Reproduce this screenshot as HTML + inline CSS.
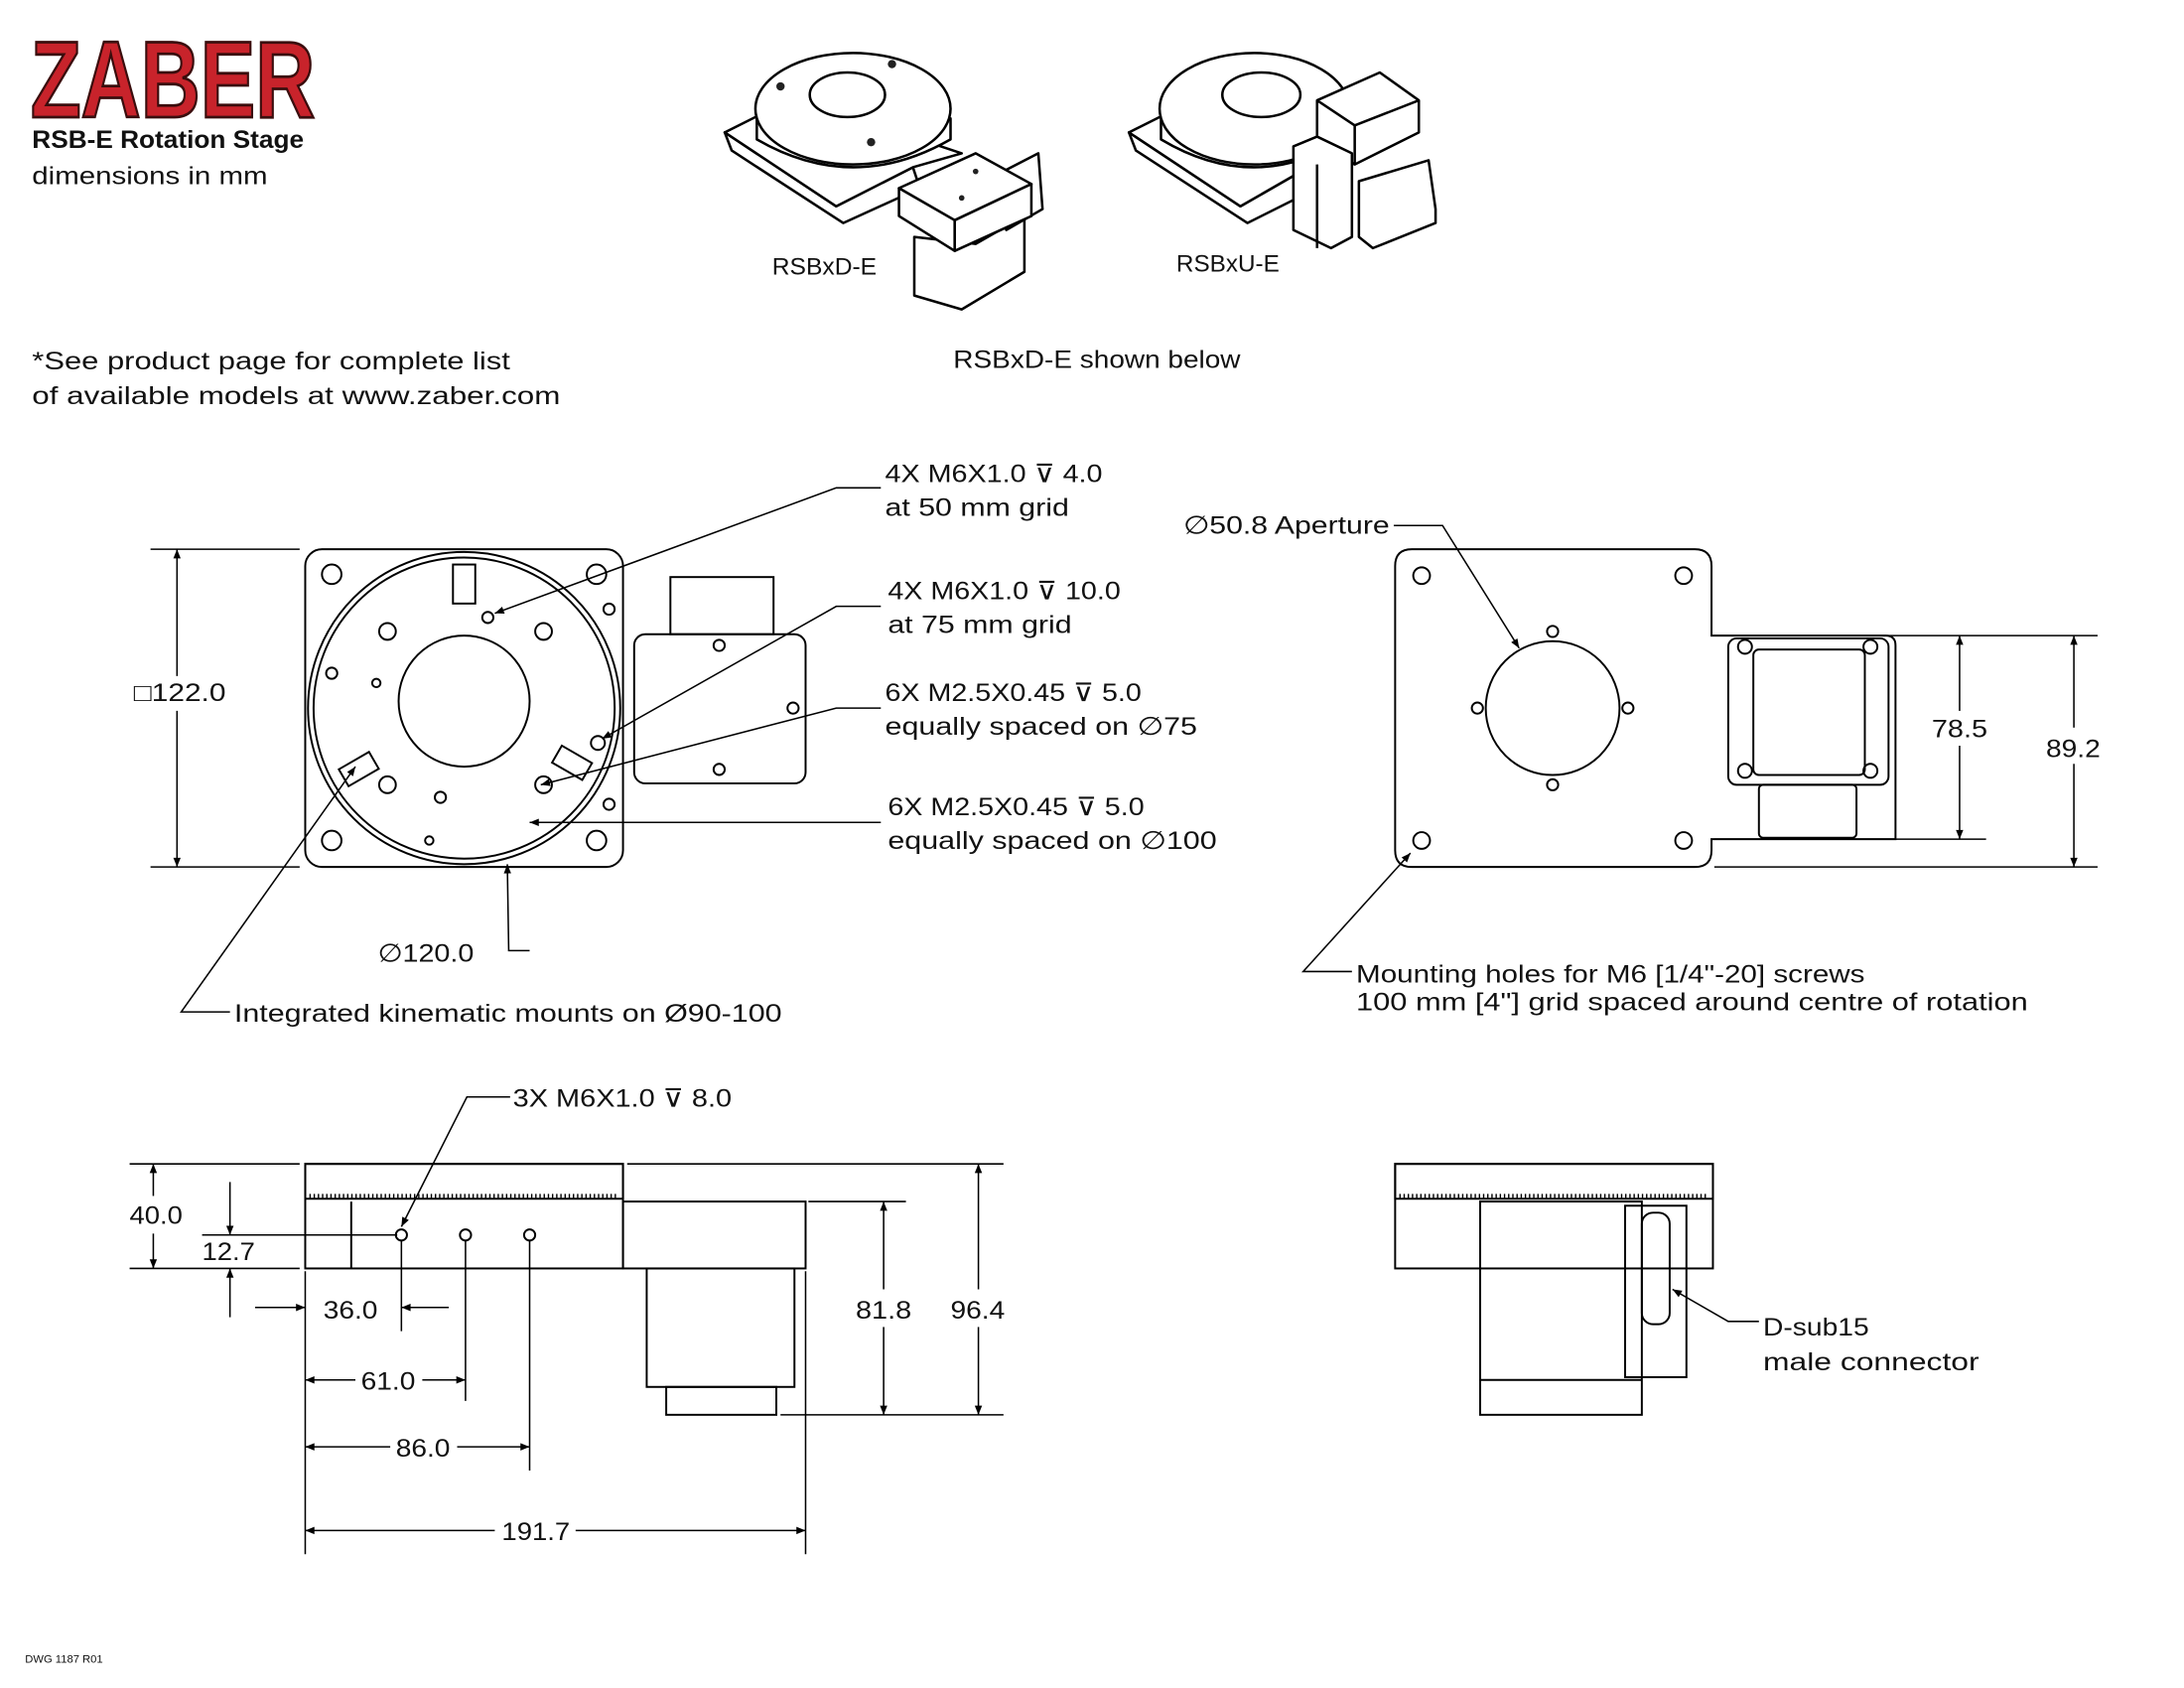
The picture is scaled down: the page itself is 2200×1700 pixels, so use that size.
<!DOCTYPE html>
<html><head><meta charset="utf-8"><style>
html,body{margin:0;padding:0;background:#fff}
svg{display:block}
text{font-family:"Liberation Sans",sans-serif;fill:#111}
.d{font-family:"DejaVu Sans",sans-serif}
</style></head><body>
<svg width="2200" height="1700" viewBox="0 0 1567 1211" preserveAspectRatio="none" xmlns="http://www.w3.org/2000/svg">
<defs>
<marker id="a" viewBox="0 0 10 10" refX="10" refY="5" markerWidth="9" markerHeight="6" orient="auto-start-reverse"><path d="M0,1 L10,5 L0,9 z" fill="#000"/></marker>
</defs>
<rect width="1567" height="1211" fill="#fff"/>
<text x="22" y="84" font-size="78" font-weight="bold" textLength="204" lengthAdjust="spacingAndGlyphs" style="fill:#c8232b;stroke:#3a0d0d;stroke-width:2">ZABER</text>
<text x="23" y="106" font-size="18" font-weight="bold" textLength="195" lengthAdjust="spacingAndGlyphs">RSB-E Rotation Stage</text>
<text x="23" y="132" font-size="18" textLength="169" lengthAdjust="spacingAndGlyphs">dimensions in mm</text>
<text x="23" y="265" font-size="18" textLength="343" lengthAdjust="spacingAndGlyphs">*See product page for complete list</text>
<text x="23" y="290" font-size="18" textLength="379" lengthAdjust="spacingAndGlyphs">of available models at www.zaber.com</text>
<text x="554" y="197" font-size="17" textLength="75" lengthAdjust="spacingAndGlyphs">RSBxD-E</text>
<text x="844" y="195" font-size="17" textLength="74" lengthAdjust="spacingAndGlyphs">RSBxU-E</text>
<text x="684" y="264" font-size="18" textLength="206" lengthAdjust="spacingAndGlyphs">RSBxD-E shown below</text>
<!-- iso sketch D -->
<g fill="#fff" stroke="#000" stroke-width="1.8" stroke-linejoin="round">
<path d="M520,95 L525,108 L605,160 L660,135 L655,120 L600,148 Z"/>
<path d="M520,95 L570,70 L690,110 L655,120 L600,148 Z"/>
<path d="M543,85 L543,100 Q612,140 682,100 L682,85 Z"/>
<ellipse cx="612" cy="78" rx="70" ry="40"/>
<ellipse cx="608" cy="68" rx="27" ry="16"/>
<path d="M656,212 L656,170 L700,175 L735,155 L735,195 L690,222 Z"/>
<path d="M710,128 L745,110 L748,150 L722,165 Z"/>
<path d="M645,135 L700,110 L740,132 L685,158 Z"/>
<path d="M645,135 L645,155 L685,180 L685,158 Z"/>
<path d="M685,158 L740,132 L740,155 L685,180 Z"/>
</g>
<g fill="#222"><circle cx="640" cy="46" r="3"/><circle cx="560" cy="62" r="3"/><circle cx="625" cy="102" r="3"/><circle cx="700" cy="123" r="2"/><circle cx="690" cy="142" r="2"/></g>
<!-- iso sketch U -->
<g fill="#fff" stroke="#000" stroke-width="1.8" stroke-linejoin="round">
<path d="M810,95 L815,108 L895,160 L935,140 L930,125 L890,148 Z"/>
<path d="M810,95 L860,70 L960,105 L930,125 L890,148 Z"/>
<path d="M833,85 L833,100 Q900,140 965,100 L965,85 Z"/>
<ellipse cx="900" cy="78" rx="68" ry="40"/>
<ellipse cx="905" cy="68" rx="28" ry="16"/>
<path d="M945,72 L990,52 L1018,72 L1018,95 L972,118 L945,100 Z"/>
<path d="M945,72 L972,90 L1018,72"/><line x1="972" y1="90" x2="972" y2="118"/>
<path d="M975,130 L1025,115 L1030,150 L1030,160 L985,178 L975,170 Z"/>
<path d="M928,105 L945,98 L970,110 L970,170 L955,178 L928,165 Z"/>
<line x1="945" y1="118" x2="945" y2="178"/>
</g>
<g fill="none" stroke="#000" stroke-width="1.4">
<rect x="219" y="394" width="228" height="228" rx="12"/>
<rect x="455" y="455" width="123" height="107" rx="8"/>
<rect x="481" y="414" width="74" height="41"/>
<circle cx="333" cy="508" r="112"/>
<circle cx="333" cy="508" r="108"/>
<circle cx="333" cy="503" r="47"/>
<circle cx="238" cy="412" r="7"/><circle cx="428" cy="412" r="7"/>
<circle cx="238" cy="603" r="7"/><circle cx="428" cy="603" r="7"/>
<circle cx="278" cy="453" r="6"/><circle cx="390" cy="453" r="6"/>
<circle cx="278" cy="563" r="6"/><circle cx="390" cy="563" r="6"/>
<circle cx="350" cy="443" r="4"/><circle cx="429" cy="533" r="5"/>
<circle cx="238" cy="483" r="4"/><circle cx="270" cy="490" r="3"/>
<circle cx="316" cy="572" r="4"/><circle cx="308" cy="603" r="3"/>
<rect x="325" y="405" width="16" height="28"/>
<rect x="245" y="545" width="25" height="14" transform="rotate(-30 257 552)"/>
<rect x="398" y="540" width="25" height="14" transform="rotate(30 410 547)"/>
<circle cx="437" cy="437" r="4"/><circle cx="437" cy="577" r="4"/>
<circle cx="516" cy="463" r="4"/><circle cx="569" cy="508" r="4"/><circle cx="516" cy="552" r="4"/>
</g>
<g fill="none" stroke="#000" stroke-width="1.4">
<path d="M1013,394 L1216,394 Q1228,394 1228,406 L1228,456 L1353,456 Q1360,456 1360,463 L1360,602 L1228,602 L1228,610 Q1228,622 1216,622 L1013,622 Q1001,622 1001,610 L1001,406 Q1001,394 1013,394 Z"/>
<circle cx="1114" cy="508" r="48"/>
<circle cx="1020" cy="413" r="6"/><circle cx="1208" cy="413" r="6"/>
<circle cx="1020" cy="603" r="6"/><circle cx="1208" cy="603" r="6"/>
<circle cx="1114" cy="453" r="4"/><circle cx="1114" cy="563" r="4"/>
<circle cx="1060" cy="508" r="4"/><circle cx="1168" cy="508" r="4"/>
<rect x="1240" y="458" width="115" height="105" rx="6"/>
<rect x="1258" y="466" width="80" height="90" rx="4"/>
<rect x="1262" y="563" width="70" height="38" rx="3"/>
<circle cx="1252" cy="464" r="5"/><circle cx="1252" cy="553" r="5"/><circle cx="1342" cy="464" r="5"/><circle cx="1342" cy="553" r="5"/>
</g>
<g fill="none" stroke="#000" stroke-width="1.4">
<rect x="219" y="835" width="228" height="75"/>
<rect x="219" y="835" width="228" height="25"/>
<rect x="447" y="862" width="131" height="48"/>
<rect x="464" y="910" width="106" height="85"/>
<rect x="478" y="995" width="79" height="20"/>
<line x1="252" y1="862" x2="252" y2="910"/>
<circle cx="288" cy="886" r="4"/><circle cx="334" cy="886" r="4"/><circle cx="380" cy="886" r="4"/>
</g>
<line x1="222" y1="858" x2="444" y2="858" stroke="#000" stroke-width="3" stroke-dasharray="1 2"/>
<g fill="none" stroke="#000" stroke-width="1.4">
<rect x="1001" y="835" width="228" height="75"/>
<rect x="1001" y="835" width="228" height="25"/>
<rect x="1062" y="862" width="116" height="153"/>
<rect x="1166" y="865" width="44" height="123"/>
<rect x="1178" y="870" width="20" height="80" rx="8"/>
<line x1="1062" y1="990" x2="1178" y2="990"/>
</g>
<line x1="1004" y1="858" x2="1226" y2="858" stroke="#000" stroke-width="3" stroke-dasharray="1 2"/>
<g stroke="#000" stroke-width="1.1" fill="none">
<line x1="108" y1="394" x2="215" y2="394"/><line x1="108" y1="622" x2="215" y2="622"/>
<line x1="127" y1="394" x2="127" y2="485" marker-start="url(#a)"/><line x1="127" y1="510" x2="127" y2="622" marker-end="url(#a)"/>
<line x1="1230" y1="456" x2="1505" y2="456"/><line x1="1230" y1="602" x2="1425" y2="602"/><line x1="1230" y1="622" x2="1505" y2="622"/>
<line x1="1406" y1="456" x2="1406" y2="510" marker-start="url(#a)"/><line x1="1406" y1="535" x2="1406" y2="602" marker-end="url(#a)"/>
<line x1="1488" y1="456" x2="1488" y2="522" marker-start="url(#a)"/><line x1="1488" y1="548" x2="1488" y2="622" marker-end="url(#a)"/>
<polyline points="632,350 600,350 355,440" marker-end="url(#a)"/>
<polyline points="632,435 600,435 432,530" marker-end="url(#a)"/>
<polyline points="632,508 600,508 388,563" marker-end="url(#a)"/>
<polyline points="632,590 600,590 380,590" marker-end="url(#a)"/>
<polyline points="380,682 365,682 364,620" marker-end="url(#a)"/>
<polyline points="165,726 130,726 255,550" marker-end="url(#a)"/>
<polyline points="1000,377 1035,377 1090,465" marker-end="url(#a)"/>
<polyline points="970,697 935,697 1012,612" marker-end="url(#a)"/>
<polyline points="366,787 335,787 288,880" marker-end="url(#a)"/>
<polyline points="1262,948 1240,948 1200,925" marker-end="url(#a)"/>
<line x1="93" y1="835" x2="215" y2="835"/><line x1="93" y1="910" x2="215" y2="910"/>
<line x1="110" y1="835" x2="110" y2="858" marker-start="url(#a)"/><line x1="110" y1="885" x2="110" y2="910" marker-end="url(#a)"/>
<line x1="145" y1="886" x2="285" y2="886"/>
<line x1="165" y1="848" x2="165" y2="886" marker-end="url(#a)"/><line x1="165" y1="910" x2="165" y2="945" marker-start="url(#a)"/>
<line x1="219" y1="912" x2="219" y2="1115"/><line x1="288" y1="890" x2="288" y2="955"/><line x1="334" y1="890" x2="334" y2="1005"/><line x1="380" y1="890" x2="380" y2="1055"/><line x1="578" y1="912" x2="578" y2="1115"/>
<line x1="183" y1="938" x2="219" y2="938" marker-end="url(#a)"/><line x1="322" y1="938" x2="288" y2="938" marker-end="url(#a)"/>
<line x1="255" y1="990" x2="219" y2="990" marker-end="url(#a)"/><line x1="303" y1="990" x2="334" y2="990" marker-end="url(#a)"/>
<line x1="280" y1="1038" x2="219" y2="1038" marker-end="url(#a)"/><line x1="328" y1="1038" x2="380" y2="1038" marker-end="url(#a)"/>
<line x1="355" y1="1098" x2="219" y2="1098" marker-end="url(#a)"/><line x1="413" y1="1098" x2="578" y2="1098" marker-end="url(#a)"/>
<line x1="450" y1="835" x2="720" y2="835"/><line x1="580" y1="862" x2="650" y2="862"/><line x1="560" y1="1015" x2="720" y2="1015"/>
<line x1="634" y1="862" x2="634" y2="925" marker-start="url(#a)"/><line x1="634" y1="952" x2="634" y2="1015" marker-end="url(#a)"/>
<line x1="702" y1="835" x2="702" y2="925" marker-start="url(#a)"/><line x1="702" y1="952" x2="702" y2="1015" marker-end="url(#a)"/>
</g>
<g font-size="18">
<text x="96" y="503" textLength="66" lengthAdjust="spacingAndGlyphs">□122.0</text>
<text x="1386" y="529" textLength="40" lengthAdjust="spacingAndGlyphs">78.5</text>
<text x="1468" y="543" textLength="39" lengthAdjust="spacingAndGlyphs">89.2</text>
<text x="635" y="346" textLength="156" lengthAdjust="spacingAndGlyphs">4X M6X1.0 <tspan class="d">⊽</tspan> 4.0</text>
<text x="635" y="370" textLength="132" lengthAdjust="spacingAndGlyphs">at 50 mm grid</text>
<text x="637" y="430" textLength="167" lengthAdjust="spacingAndGlyphs">4X M6X1.0 <tspan class="d">⊽</tspan> 10.0</text>
<text x="637" y="454" textLength="132" lengthAdjust="spacingAndGlyphs">at 75 mm grid</text>
<text x="635" y="503" textLength="184" lengthAdjust="spacingAndGlyphs">6X M2.5X0.45 <tspan class="d">⊽</tspan> 5.0</text>
<text x="635" y="527" textLength="224" lengthAdjust="spacingAndGlyphs">equally spaced on ∅75</text>
<text x="637" y="585" textLength="184" lengthAdjust="spacingAndGlyphs">6X M2.5X0.45 <tspan class="d">⊽</tspan> 5.0</text>
<text x="637" y="609" textLength="236" lengthAdjust="spacingAndGlyphs">equally spaced on ∅100</text>
<text x="271" y="690" textLength="69" lengthAdjust="spacingAndGlyphs">∅120.0</text>
<text x="168" y="733" textLength="393" lengthAdjust="spacingAndGlyphs">Integrated kinematic mounts on Ø90-100</text>
<text x="849" y="383" textLength="148" lengthAdjust="spacingAndGlyphs">∅50.8 Aperture</text>
<text x="973" y="705" textLength="365" lengthAdjust="spacingAndGlyphs">Mounting holes for M6 [1/4"-20] screws</text>
<text x="973" y="725" textLength="482" lengthAdjust="spacingAndGlyphs">100 mm [4"] grid spaced around centre of rotation</text>
<text x="368" y="794" textLength="157" lengthAdjust="spacingAndGlyphs">3X M6X1.0 <tspan class="d">⊽</tspan> 8.0</text>
<text x="93" y="878" textLength="38" lengthAdjust="spacingAndGlyphs">40.0</text>
<text x="145" y="904" textLength="38" lengthAdjust="spacingAndGlyphs">12.7</text>
<text x="232" y="946" textLength="39" lengthAdjust="spacingAndGlyphs">36.0</text>
<text x="259" y="997" textLength="39" lengthAdjust="spacingAndGlyphs">61.0</text>
<text x="284" y="1045" textLength="39" lengthAdjust="spacingAndGlyphs">86.0</text>
<text x="360" y="1105" textLength="49" lengthAdjust="spacingAndGlyphs">191.7</text>
<text x="614" y="946" textLength="40" lengthAdjust="spacingAndGlyphs">81.8</text>
<text x="682" y="946" textLength="39" lengthAdjust="spacingAndGlyphs">96.4</text>
<text x="1265" y="958" textLength="76" lengthAdjust="spacingAndGlyphs">D-sub15</text>
<text x="1265" y="983" textLength="155" lengthAdjust="spacingAndGlyphs">male connector</text>
</g>
<text x="18" y="1193" font-size="8">DWG 1187 R01</text>
</svg>
</body></html>
